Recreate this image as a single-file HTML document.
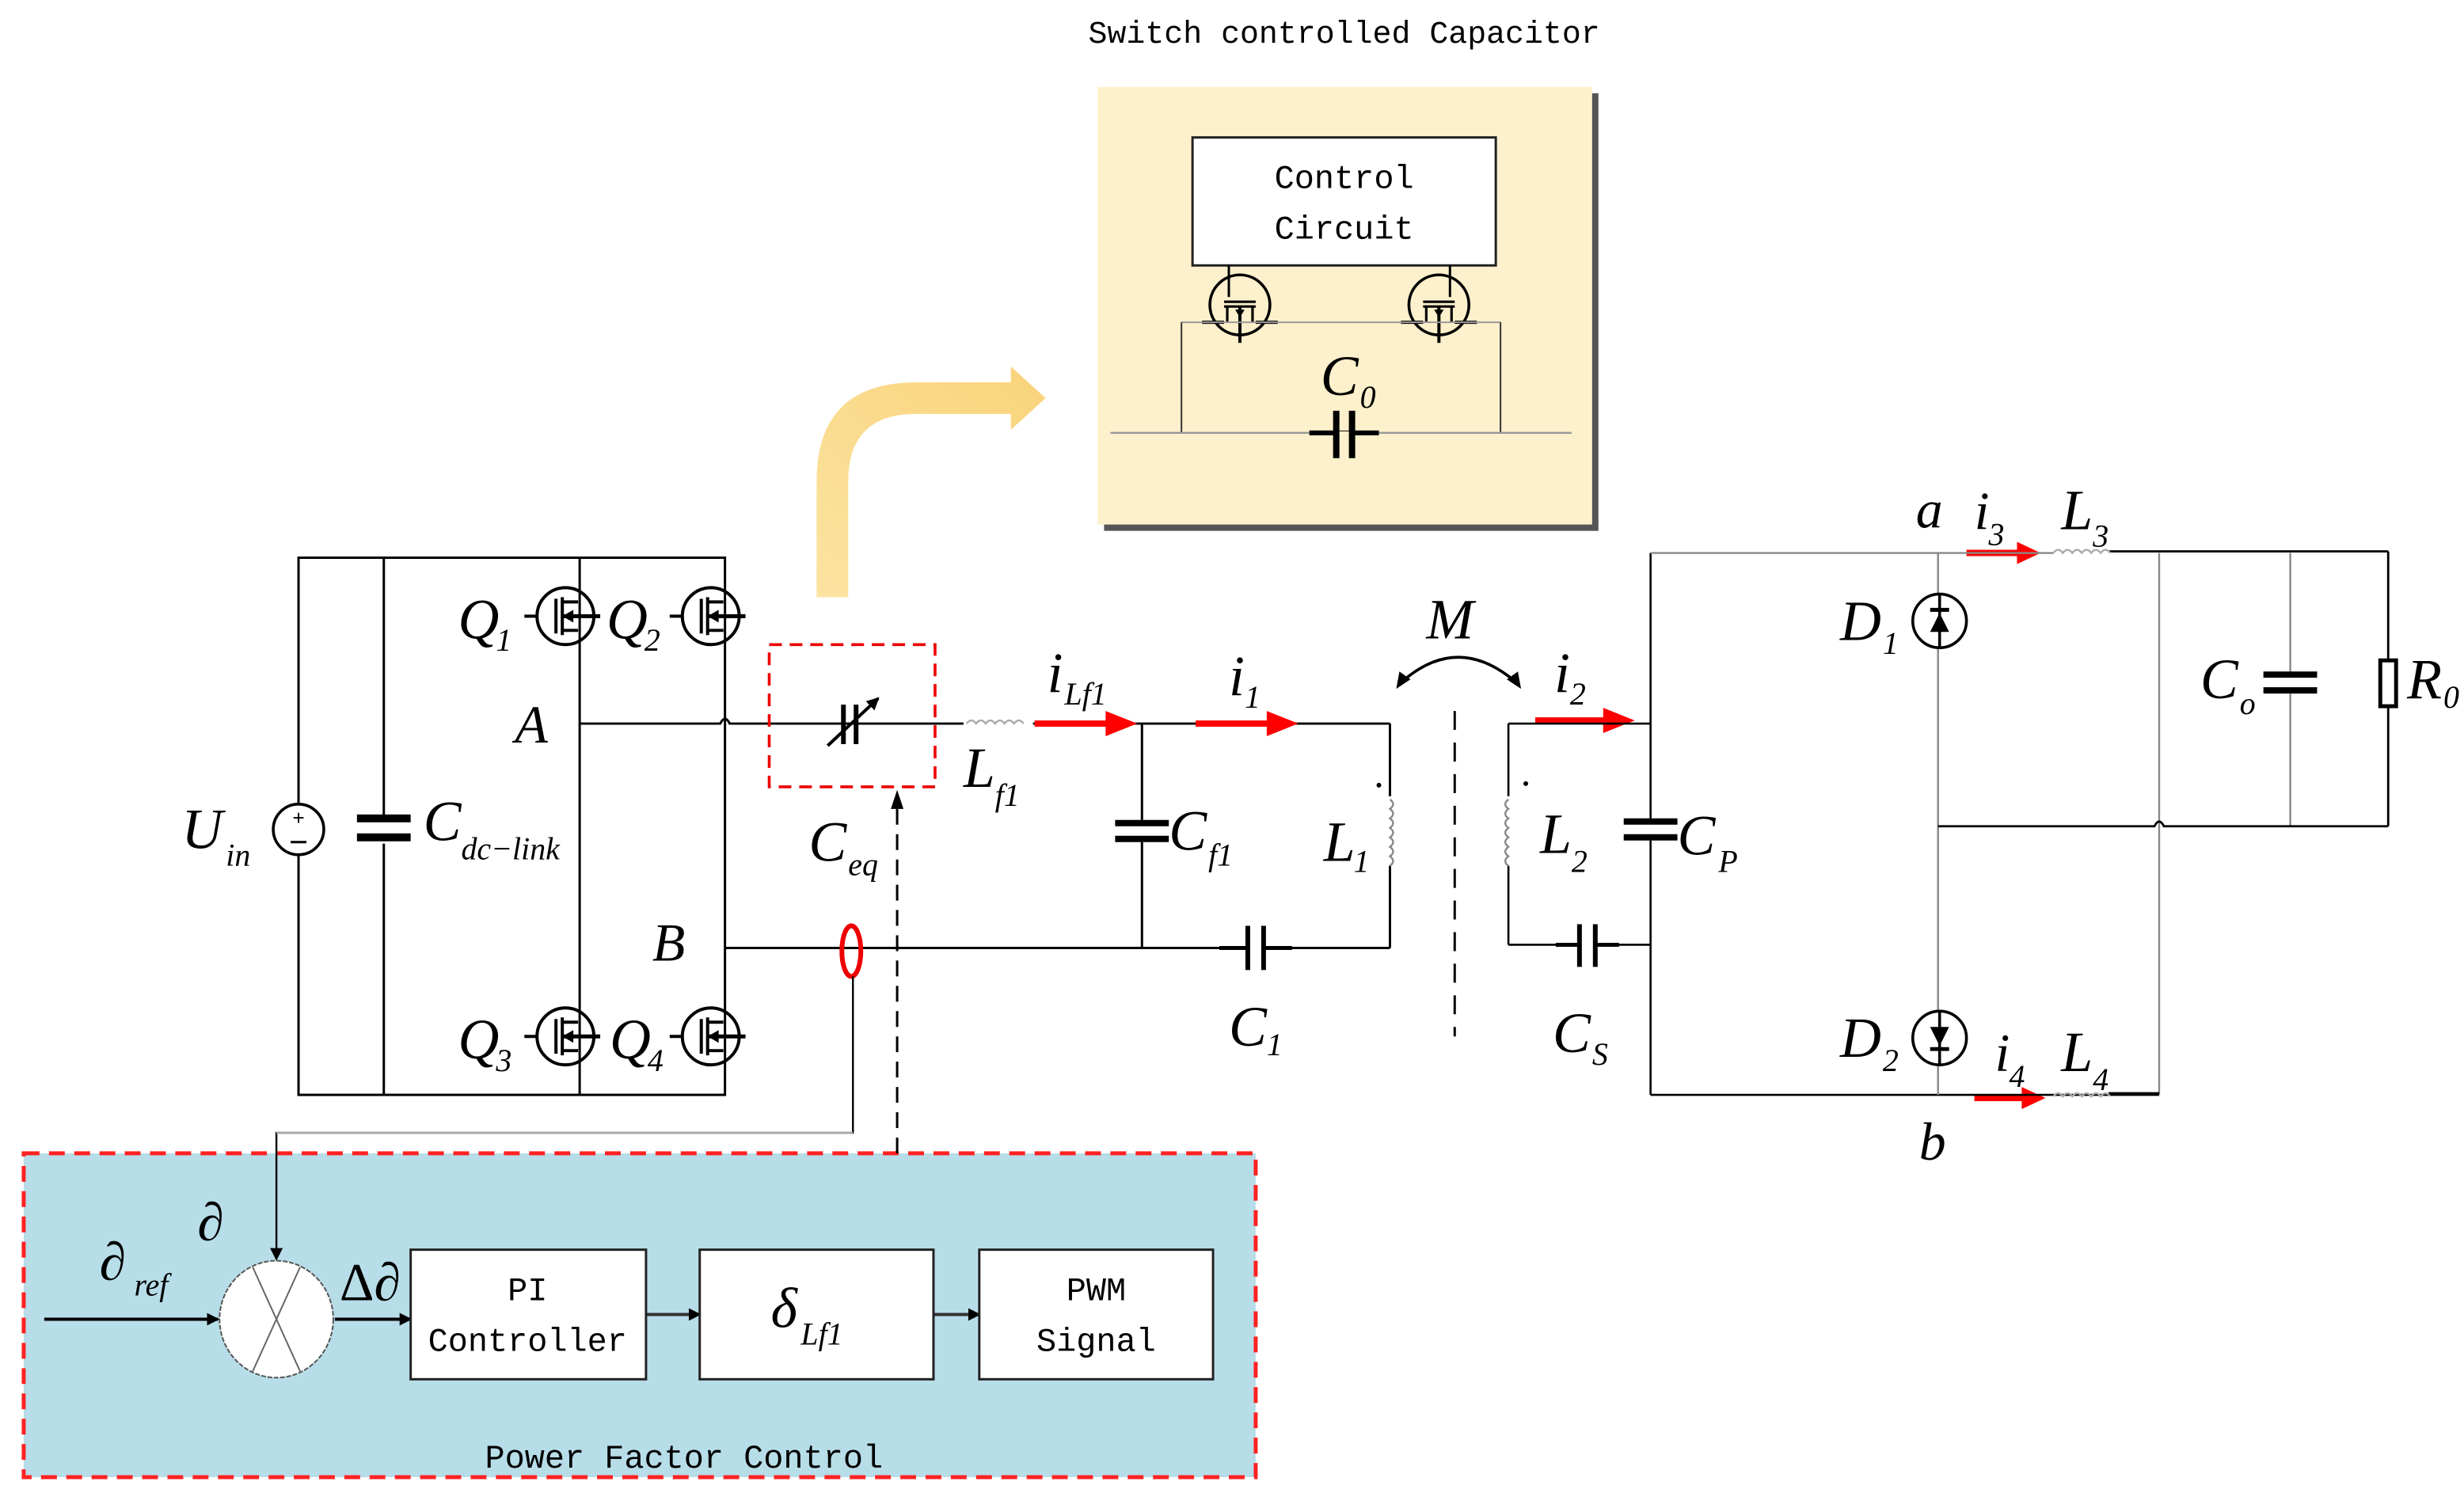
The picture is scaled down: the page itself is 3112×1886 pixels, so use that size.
<!DOCTYPE html>
<html><head><meta charset="utf-8"><style>
html,body{margin:0;padding:0;background:#fff;}
svg{display:block}
.it{font-family:"Liberation Serif",serif;font-style:italic;fill:#000}
.mono{font-family:"Liberation Mono",monospace;fill:#000}
.sub{font-family:"Liberation Serif",serif;font-style:italic}
</style></head><body>
<svg width="3112" height="1886" viewBox="0 0 1560 945" preserveAspectRatio="none" xmlns="http://www.w3.org/2000/svg">
<defs>
<marker id="ah" markerWidth="8" markerHeight="8" refX="7" refY="4" orient="auto" markerUnits="userSpaceOnUse"><path d="M0,0 L8,4 L0,8 z" fill="#000"/></marker>
<linearGradient id="yg" x1="0" y1="1" x2="1" y2="0"><stop offset="0" stop-color="#fbe3a0"/><stop offset="1" stop-color="#f9d37a"/></linearGradient>
<g id="mos">
<circle cx="0" cy="0" r="18" fill="none" stroke="#000" stroke-width="2"/>
<line x1="-6" y1="-11" x2="-6" y2="11" stroke="#000" stroke-width="2"/>
<line x1="-2" y1="-12" x2="-2" y2="12" stroke="#000" stroke-width="2"/>
<line x1="-2" y1="-9" x2="8" y2="-9" stroke="#000" stroke-width="2"/>
<line x1="-2" y1="9" x2="8" y2="9" stroke="#000" stroke-width="2"/>
<line x1="-2" y1="0" x2="22" y2="0" stroke="#000" stroke-width="2.5"/>
<path d="M-2,0 L5,-4 L5,4 z" fill="#000"/>
<line x1="-18" y1="0" x2="-26" y2="0" stroke="#000" stroke-width="2"/>
</g>
<g id="smos">
<circle cx="0" cy="0" r="19" fill="none" stroke="#000" stroke-width="1.8"/>
<line x1="-18" y1="11" x2="-10" y2="11" stroke="#000" stroke-width="2"/>
<line x1="10" y1="11" x2="18" y2="11" stroke="#000" stroke-width="2"/>
<line x1="-10" y1="-2" x2="10" y2="-2" stroke="#000" stroke-width="1.6"/>
<line x1="-8" y1="1" x2="-8" y2="11" stroke="#000" stroke-width="1.6"/>
<line x1="8" y1="1" x2="8" y2="11" stroke="#000" stroke-width="1.6"/>
<line x1="-10" y1="1" x2="10" y2="1" stroke="#000" stroke-width="1.6"/>
<line x1="0" y1="1" x2="0" y2="24" stroke="#000" stroke-width="2"/>
<path d="M-3,3 L3,3 L0,8 z" fill="#000"/>
<line x1="-18" y1="11" x2="-24" y2="11" stroke="#000" stroke-width="2"/>
<line x1="18" y1="11" x2="24" y2="11" stroke="#000" stroke-width="2"/>
</g>
</defs>

<!-- title -->
<text x="851" y="27" text-anchor="middle" class="mono" font-size="20">Switch controlled Capacitor</text>

<!-- yellow panel -->
<rect x="699" y="59" width="313" height="277" fill="#555"/>
<rect x="695" y="55" width="313" height="277" fill="#fdf0cc"/>
<rect x="755" y="87" width="192" height="81" fill="#fff" stroke="#222" stroke-width="1.5"/>
<text x="851" y="119" text-anchor="middle" class="mono" font-size="21">Control</text>
<text x="851" y="151" text-anchor="middle" class="mono" font-size="21">Circuit</text>
<line x1="778" y1="168" x2="778" y2="188" stroke="#000" stroke-width="1.5"/>
<line x1="918" y1="168" x2="918" y2="188" stroke="#000" stroke-width="1.5"/>
<use href="#smos" x="785" y="193"/>
<use href="#smos" x="911" y="193"/>
<line x1="748" y1="204" x2="950" y2="204" stroke="#999" stroke-width="1"/>
<line x1="748" y1="204" x2="748" y2="274" stroke="#333" stroke-width="1"/>
<line x1="950" y1="204" x2="950" y2="274" stroke="#333" stroke-width="1"/>
<line x1="703" y1="274" x2="995" y2="274" stroke="#999" stroke-width="1.2"/>
<line x1="829" y1="274" x2="873" y2="274" stroke="#000" stroke-width="3"/>
<rect x="829" y="273" width="44" height="3" fill="#fdf0cc"/>
<line x1="829" y1="274" x2="845" y2="274" stroke="#000" stroke-width="3"/>
<line x1="857" y1="274" x2="873" y2="274" stroke="#000" stroke-width="3"/>
<line x1="846" y1="260" x2="846" y2="290" stroke="#000" stroke-width="4"/>
<line x1="856" y1="260" x2="856" y2="290" stroke="#000" stroke-width="4"/>
<text x="836" y="250" class="it" font-size="36">C</text><text x="861" y="258" class="sub" font-size="20">0</text>

<!-- yellow curved arrow -->
<path d="M517,378 L517,305 Q517,242 580,242 L640,242 L640,232 L662,252 L640,272 L640,262 L580,262 Q537,262 537,305 L537,378 z" fill="url(#yg)"/>

<!-- left bridge -->
<g stroke="#000" stroke-width="1.5" fill="none">
<rect x="189" y="353" width="270" height="340"/>
<line x1="243" y1="353" x2="243" y2="693"/>
<line x1="367" y1="353" x2="367" y2="693"/>
<path d="M367,458 L456,458 Q459,452 462,458 L880,458"/>
<line x1="459" y1="600" x2="880" y2="600"/>
<line x1="723" y1="458" x2="723" y2="600"/>
<line x1="880" y1="458" x2="880" y2="600"/>
</g>
<rect x="610" y="455" width="44" height="6" fill="#fff"/>
<path d="M612,458 q3,-4 6,0 q3,-4 6,0 q3,-4 6,0 q3,-4 6,0 q3,-4 6,0 q3,-4 6,0" stroke="#aaa" stroke-width="1.2" fill="none"/>
<!-- Uin -->
<circle cx="189" cy="525" r="16" fill="#fff" stroke="#000" stroke-width="1.8"/>
<text x="189" y="522" text-anchor="middle" font-size="13" font-family="Liberation Sans">+</text>
<line x1="184" y1="533" x2="194" y2="533" stroke="#000" stroke-width="1.5"/>
<text x="115" y="537" class="it" font-size="36">U</text><text x="143" y="548" class="sub" font-size="20">in</text>
<!-- Cdc -->
<rect x="226" y="516" width="34" height="18" fill="#fff"/>
<line x1="226" y1="518" x2="260" y2="518" stroke="#000" stroke-width="5"/>
<line x1="226" y1="530" x2="260" y2="530" stroke="#000" stroke-width="5"/>
<text x="268" y="532" class="it" font-size="36">C</text><text x="292" y="544" class="sub" font-size="20">dc−link</text>
<!-- mosfets -->
<use href="#mos" x="358" y="390"/>
<use href="#mos" x="450" y="390"/>
<use href="#mos" x="358" y="656"/>
<use href="#mos" x="450" y="656"/>
<text x="290" y="404" class="it" font-size="36">Q</text><text x="314" y="412" class="sub" font-size="20">1</text>
<text x="384" y="404" class="it" font-size="36">Q</text><text x="408" y="412" class="sub" font-size="20">2</text>
<text x="290" y="670" class="it" font-size="36">Q</text><text x="314" y="678" class="sub" font-size="20">3</text>
<text x="386" y="670" class="it" font-size="36">Q</text><text x="410" y="678" class="sub" font-size="20">4</text>
<text x="326" y="470" class="it" font-size="34">A</text>
<text x="413" y="608" class="it" font-size="34">B</text>
<!-- Ceq -->
<rect x="487" y="408" width="105" height="90" fill="none" stroke="#e00" stroke-width="1.8" stroke-dasharray="8,5"/>
<line x1="534" y1="446" x2="534" y2="471" stroke="#000" stroke-width="3"/>
<line x1="542" y1="446" x2="542" y2="471" stroke="#000" stroke-width="3"/>
<line x1="524" y1="472" x2="556" y2="442" stroke="#000" stroke-width="2" marker-end="url(#ah)"/>
<text x="512" y="545" class="it" font-size="36">C</text><text x="537" y="554" class="sub" font-size="20">eq</text>
<text x="610" y="498" class="it" font-size="36">L</text><text x="630" y="510" class="sub" font-size="20">f1</text>
<!-- red arrows -->
<g fill="#f00">
<path d="M655,456 L700,456 L700,450 L720,458 L700,466 L700,460 L655,460 z"/>
<path d="M757,456 L802,456 L802,450 L822,458 L802,466 L802,460 L757,460 z"/>
<path d="M972,454 L1015,454 L1015,448 L1035,456 L1015,464 L1015,458 L972,458 z"/>
<path d="M1245,348 L1277,348 L1277,343 L1292,350 L1277,357 L1277,352 L1245,352 z"/>
<path d="M1250,693 L1280,693 L1280,688 L1295,695 L1280,702 L1280,697 L1250,697 z"/>
</g>
<text x="663" y="438" class="it" font-size="36">i</text><text x="674" y="446" class="sub" font-size="20">Lf1</text>
<text x="778" y="440" class="it" font-size="36">i</text><text x="788" y="448" class="sub" font-size="20">1</text>
<!-- Cf1 -->
<rect x="706" y="519" width="34" height="14" fill="#fff"/>
<line x1="706" y1="521" x2="740" y2="521" stroke="#000" stroke-width="4"/>
<line x1="706" y1="531" x2="740" y2="531" stroke="#000" stroke-width="4"/>
<text x="740" y="538" class="it" font-size="36">C</text><text x="765" y="548" class="sub" font-size="20">f1</text>
<!-- C1 -->
<rect x="788" y="596" width="14" height="8" fill="#fff"/>
<line x1="772" y1="600" x2="818" y2="600" stroke="#000" stroke-width="2.5"/>
<rect x="791" y="596" width="8" height="8" fill="#fff"/>
<line x1="790" y1="586" x2="790" y2="614" stroke="#000" stroke-width="3"/>
<line x1="800" y1="586" x2="800" y2="614" stroke="#000" stroke-width="3"/>
<text x="778" y="662" class="it" font-size="36">C</text><text x="802" y="668" class="sub" font-size="20">1</text>
<!-- L1 -->
<rect x="876" y="504" width="8" height="44" fill="#fff"/>
<path d="M880,506 q4,3 0,6 q4,3 0,6 q4,3 0,6 q4,3 0,6 q4,3 0,6 q4,3 0,6 q4,3 0,6" stroke="#888" stroke-width="1.2" fill="none"/>
<circle cx="873" cy="497" r="1.5" fill="#000"/>
<text x="838" y="545" class="it" font-size="36">L</text><text x="857" y="552" class="sub" font-size="20">1</text>
<!-- M -->
<path d="M887,432 Q923,400 960,432" stroke="#000" stroke-width="1.8" fill="none"/>
<path d="M884,436 L886,425 L893,430 z" fill="#000"/>
<path d="M963,436 L961,425 L954,430 z" fill="#000"/>
<text x="903" y="404" class="it" font-size="36">M</text>
<line x1="921" y1="450" x2="921" y2="656" stroke="#000" stroke-width="1.5" stroke-dasharray="12,8"/>
<!-- secondary -->
<g stroke="#000" stroke-width="1.3" fill="none">
<line x1="955" y1="458" x2="1045" y2="458"/>
<line x1="955" y1="458" x2="955" y2="598"/>
<line x1="955" y1="598" x2="1045" y2="598"/>
<line x1="1045" y1="350" x2="1045" y2="693"/>
<line x1="1045" y1="693" x2="1367" y2="693"/>
</g>
<g stroke="#888" stroke-width="1.2" fill="none">
<line x1="1045" y1="350" x2="1300" y2="350"/>
<line x1="1227" y1="350" x2="1227" y2="693"/>
<line x1="1367" y1="350" x2="1367" y2="693"/>
<line x1="1450" y1="350" x2="1450" y2="523"/>
</g>
<g stroke="#000" stroke-width="1.4" fill="none">
<line x1="1335" y1="349" x2="1512" y2="349"/>
<line x1="1512" y1="349" x2="1512" y2="523"/>
<path d="M1227,523 L1364,523 Q1367,517 1370,523 L1512,523"/>
<line x1="1335" y1="692" x2="1367" y2="692"/>
</g>
<rect x="951" y="504" width="8" height="44" fill="#fff"/>
<path d="M955,506 q-4,3 0,6 q-4,3 0,6 q-4,3 0,6 q-4,3 0,6 q-4,3 0,6 q-4,3 0,6 q-4,3 0,6" stroke="#888" stroke-width="1.2" fill="none"/>
<circle cx="966" cy="496" r="1.5" fill="#000"/>
<text x="975" y="540" class="it" font-size="36">L</text><text x="995" y="552" class="sub" font-size="20">2</text>
<text x="984" y="438" class="it" font-size="36">i</text><text x="994" y="446" class="sub" font-size="20">2</text>
<!-- Cp -->
<rect x="1028" y="518" width="34" height="14" fill="#fff"/>
<line x1="1028" y1="520" x2="1062" y2="520" stroke="#000" stroke-width="4"/>
<line x1="1028" y1="530" x2="1062" y2="530" stroke="#000" stroke-width="4"/>
<text x="1062" y="541" class="it" font-size="36">C</text><text x="1088" y="552" class="sub" font-size="20">P</text>
<!-- Cs -->
<line x1="985" y1="598" x2="1025" y2="598" stroke="#000" stroke-width="2.5"/>
<rect x="1000" y="594" width="10" height="8" fill="#fff"/>
<line x1="1000" y1="585" x2="1000" y2="612" stroke="#000" stroke-width="3"/>
<line x1="1010" y1="585" x2="1010" y2="612" stroke="#000" stroke-width="3"/>
<text x="983" y="666" class="it" font-size="36">C</text><text x="1008" y="674" class="sub" font-size="20">S</text>
<!-- diodes -->
<circle cx="1228" cy="393" r="17" fill="#fff" stroke="#000" stroke-width="1.8"/>
<line x1="1228" y1="376" x2="1228" y2="410" stroke="#000" stroke-width="1.8"/>
<path d="M1222,400 L1234,400 L1228,388 z" fill="#000"/>
<line x1="1222" y1="386" x2="1234" y2="386" stroke="#000" stroke-width="2.5"/>
<circle cx="1228" cy="657" r="17" fill="#fff" stroke="#000" stroke-width="1.8"/>
<line x1="1228" y1="640" x2="1228" y2="674" stroke="#000" stroke-width="1.8"/>
<path d="M1222,650 L1234,650 L1228,662 z" fill="#000"/>
<line x1="1222" y1="664" x2="1234" y2="664" stroke="#000" stroke-width="2.5"/>
<text x="1165" y="405" class="it" font-size="36">D</text><text x="1192" y="414" class="sub" font-size="20">1</text>
<text x="1165" y="669" class="it" font-size="36">D</text><text x="1192" y="678" class="sub" font-size="20">2</text>
<!-- L3 L4 -->
<path d="M1300,350 q3,-4 6,0 q3,-4 6,0 q3,-4 6,0 q3,-4 6,0 q3,-4 6,0 q3,-4 6,0" stroke="#aaa" stroke-width="1.2" fill="none"/>
<path d="M1300,694 q3,-4 6,0 q3,-4 6,0 q3,-4 6,0 q3,-4 6,0 q3,-4 6,0 q3,-4 6,0" stroke="#aaa" stroke-width="1.2" fill="none"/>
<text x="1213" y="334" class="it" font-size="34">a</text>
<text x="1250" y="335" class="it" font-size="34">i</text><text x="1259" y="345" class="sub" font-size="20">3</text>
<text x="1305" y="335" class="it" font-size="36">L</text><text x="1325" y="346" class="sub" font-size="20">3</text>
<text x="1215" y="734" class="it" font-size="34">b</text>
<text x="1263" y="678" class="it" font-size="34">i</text><text x="1272" y="688" class="sub" font-size="20">4</text>
<text x="1305" y="678" class="it" font-size="36">L</text><text x="1325" y="690" class="sub" font-size="20">4</text>
<!-- Co -->
<rect x="1433" y="425" width="34" height="14" fill="#fff"/>
<line x1="1433" y1="427" x2="1467" y2="427" stroke="#000" stroke-width="4"/>
<line x1="1433" y1="437" x2="1467" y2="437" stroke="#000" stroke-width="4"/>
<text x="1393" y="442" class="it" font-size="36">C</text><text x="1418" y="452" class="sub" font-size="20">o</text>
<!-- R0 -->
<rect x="1507" y="418" width="10" height="29" fill="#fff" stroke="#000" stroke-width="2.5"/>
<text x="1524" y="442" class="it" font-size="36">R</text><text x="1547" y="448" class="sub" font-size="20">0</text>

<!-- control box -->
<rect x="15" y="730" width="780" height="205" fill="#b7dde8" stroke="#f22" stroke-width="2.5" stroke-dasharray="10,6"/>
<ellipse cx="539" cy="602" rx="6" ry="16" fill="none" stroke="#e00" stroke-width="3"/>
<polyline points="540,618 540,717 175,717 175,797" fill="none" stroke="#000" stroke-width="1.2" marker-end="url(#ah)"/>
<line x1="175" y1="717" x2="540" y2="717" stroke="#aaa" stroke-width="1.5"/>
<line x1="568" y1="730" x2="568" y2="505" stroke="#000" stroke-width="1.5" stroke-dasharray="10,6"/>
<path d="M564,512 L568,500 L572,512 z" fill="#000"/>
<ellipse cx="175" cy="835" rx="36" ry="37" fill="#fff" stroke="#555" stroke-width="1" stroke-dasharray="3,1"/>
<line x1="160" y1="802" x2="190" y2="868" stroke="#666" stroke-width="1"/>
<line x1="190" y1="802" x2="160" y2="868" stroke="#666" stroke-width="1"/>
<line x1="28" y1="835" x2="138" y2="835" stroke="#000" stroke-width="2" marker-end="url(#ah)"/>
<line x1="212" y1="835" x2="260" y2="835" stroke="#000" stroke-width="2" marker-end="url(#ah)"/>
<line x1="409" y1="832" x2="443" y2="832" stroke="#333" stroke-width="2" marker-end="url(#ah)"/>
<line x1="591" y1="832" x2="620" y2="832" stroke="#333" stroke-width="2" marker-end="url(#ah)"/>
<rect x="260" y="791" width="149" height="82" fill="#fff" stroke="#222" stroke-width="1.5"/>
<rect x="443" y="791" width="148" height="82" fill="#fff" stroke="#222" stroke-width="1.5"/>
<rect x="620" y="791" width="148" height="82" fill="#fff" stroke="#222" stroke-width="1.5"/>
<text x="334" y="823" text-anchor="middle" class="mono" font-size="21">PI</text>
<text x="334" y="855" text-anchor="middle" class="mono" font-size="21">Controller</text>
<text x="694" y="823" text-anchor="middle" class="mono" font-size="21">PWM</text>
<text x="694" y="855" text-anchor="middle" class="mono" font-size="21">Signal</text>
<text x="488" y="840" class="it" font-size="36">δ</text><text x="507" y="851" class="sub" font-size="20">Lf1</text>
<text x="63" y="810" class="it" font-size="34">∂</text><text x="85" y="820" class="sub" font-size="20">ref</text>
<text x="125" y="785" class="it" font-size="34">∂</text>
<text x="215" y="823" font-family="Liberation Serif" font-size="34">Δ<tspan font-style="italic">∂</tspan></text>
<text x="433" y="929" text-anchor="middle" class="mono" font-size="21">Power Factor Control</text>
</svg>
</body></html>
